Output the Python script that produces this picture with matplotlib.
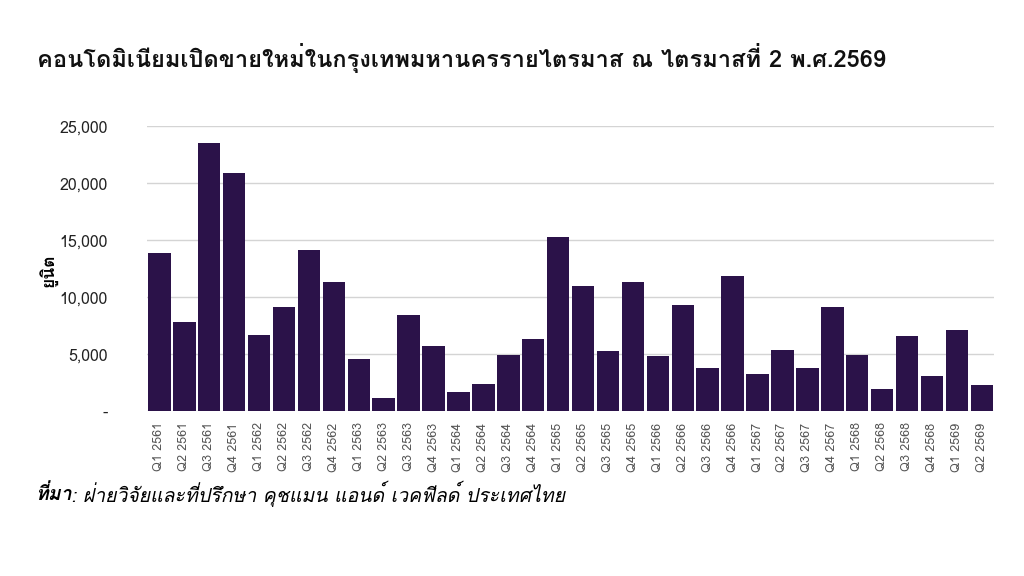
import matplotlib
matplotlib.use('Agg')
import matplotlib.pyplot as plt
from matplotlib import font_manager
from matplotlib.ft2font import FT2Font
from matplotlib.ticker import FuncFormatter

# find an installed font that has Thai glyphs
thai_font = None
for f in font_manager.fontManager.ttflist:
    try:
        if 0x0E01 in FT2Font(f.fname).get_charmap():
            thai_font = f.name
            break
    except Exception:
        pass
families = ([thai_font] if thai_font else []) + ['Liberation Sans', 'DejaVu Sans']
plt.rcParams['font.family'] = families

# data
quarters = ['Q1 2561', 'Q2 2561', 'Q3 2561', 'Q4 2561',
            'Q1 2562', 'Q2 2562', 'Q3 2562', 'Q4 2562',
            'Q1 2563', 'Q2 2563', 'Q3 2563', 'Q4 2563',
            'Q1 2564', 'Q2 2564', 'Q3 2564', 'Q4 2564',
            'Q1 2565', 'Q2 2565', 'Q3 2565', 'Q4 2565',
            'Q1 2566', 'Q2 2566', 'Q3 2566', 'Q4 2566',
            'Q1 2567', 'Q2 2567', 'Q3 2567', 'Q4 2567',
            'Q1 2568', 'Q2 2568', 'Q3 2568', 'Q4 2568',
            'Q1 2569', 'Q2 2569']
units = [13900, 7800, 23500, 20850,
         6720, 9180, 14120, 11320,
         4590, 1200, 8450, 5730,
         1700, 2370, 4910, 6350,
         15240, 10970, 5290, 11320,
         4880, 9360, 3770, 11870,
         3250, 5350, 3800, 9100,
         4970, 1960, 6580, 3070,
         7100, 2280]
y_ticks = [0, 5000, 10000, 15000, 20000, 25000]

title = 'คอนโดมิเนียมเปิดขายใหม่ในกรุงเทพมหานครรายไตรมาส ณ ไตรมาสที่ 2 พ.ศ.2569'
y_label = 'ยูนิต'
source_head = 'ที่มา'
source_text = ': ฝ่ายวิจัยและที่ปรึกษา คุชแมน แอนด์ เวคฟีลด์ ประเทศไทย'

fig = plt.figure(figsize=(10.24, 5.76), dpi=100)
ax = fig.add_axes([0.1435, 0.286, 0.8275, 0.495])

x = range(len(quarters))
ax.bar(x, units, width=0.9, color='#2b1249', zorder=3)

ax.set_xlim(-0.5, len(quarters) - 0.5)
ax.set_ylim(0, 25000)
ax.set_yticks(y_ticks)
ax.yaxis.set_major_formatter(FuncFormatter(lambda v, p: '-' if v == 0 else f'{int(v):,}'))
ax.set_xticks(list(x))
ax.set_xticklabels(quarters, rotation=90, fontsize=9, color='#555555')
ax.tick_params(axis='y', length=0, pad=28, labelsize=11.5, labelcolor='#222222')
ax.tick_params(axis='x', length=0, pad=8)
ax.grid(axis='y', color='#d4d4d4', linewidth=1, zorder=0)
for s in ax.spines.values():
    s.set_visible(False)

fig.text(0.047, 0.53, y_label, rotation=90, fontsize=12.5, fontweight='bold',
         ha='center', va='center')
fig.text(0.036, 0.9, title, fontsize=17, fontweight='bold', ha='left',
         va='center', color='#111111')
t1 = fig.text(0.034, 0.142, source_head, fontsize=14, fontweight='bold',
              style='italic', ha='left', va='center')
fig.canvas.draw()
bb = t1.get_window_extent()
fig.text(bb.x1 / fig.bbox.width, 0.142, source_text, fontsize=14,
         style='italic', ha='left', va='center')

fig.savefig('out.png', dpi=100, facecolor='white')
